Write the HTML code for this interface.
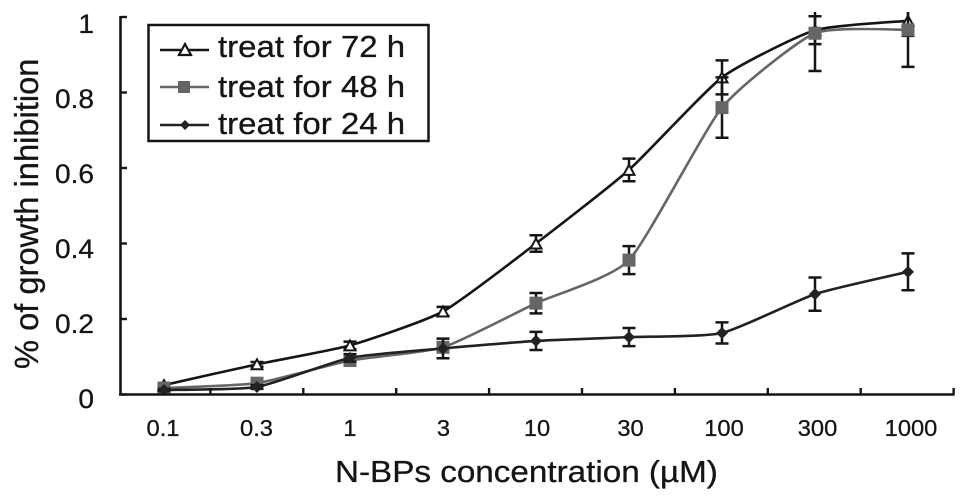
<!DOCTYPE html>
<html>
<head>
<meta charset="utf-8">
<title>Growth inhibition chart</title>
<style>
html,body{margin:0;padding:0;background:#fff;}
svg{display:block;filter:blur(0.35px);}
text{font-family:"Liberation Sans",sans-serif;fill:#151515;stroke:#151515;stroke-width:0.3px;}
</style>
</head>
<body>
<svg id="chart" width="969" height="497" viewBox="0 0 969 497" xmlns="http://www.w3.org/2000/svg">
  <defs><clipPath id="plot-clip"><rect x="100" y="12" width="869" height="420"/></clipPath></defs>
  <g id="plot" clip-path="url(#plot-clip)"></g>
  <g id="axes"></g>
  <text font-size="31" transform="translate(335,482) scale(1.072,1)">N-BPs concentration (µM)</text>
  <text font-size="33" transform="translate(38,369) rotate(-90) scale(0.99,1)">% of growth inhibition</text>
  <g>
    <rect x="148.5" y="25" width="280" height="116" fill="#fff" stroke="#151515" stroke-width="2.5"/>
    <g>
      <line x1="160" x2="209" y1="50" y2="50" stroke="#151515" stroke-width="2.5"/>
      <polygon points="185,44 191,55 179,55" fill="#fff" stroke="#151515" stroke-width="2.2"/>
      <text font-size="31" transform="translate(218,57) scale(1.065,1)">treat for 72 h</text>
    </g>
    <g>
      <line x1="160" x2="209" y1="87" y2="87" stroke="#666" stroke-width="2.5"/>
      <rect x="178" y="81" width="12" height="12" fill="#666"/>
      <text font-size="31" transform="translate(218,97) scale(1.065,1)">treat for 48 h</text>
    </g>
    <g>
      <line x1="160" x2="209" y1="125" y2="125" stroke="#222" stroke-width="2.5"/>
      <polygon points="185,120 190,125 185,130 180,125" fill="#222"/>
      <text font-size="31" transform="translate(218,134) scale(1.065,1)">treat for 24 h</text>
    </g>
  </g>
</svg>
<script>
const categories = ["0.1","0.3","1","3","10","30","100","300","1000"];
const yTicks = [0,0.2,0.4,0.6,0.8,1];
const yTickLabels = ["0","0.2","0.4","0.6","0.8","1"];
const values72 = [0.025,0.08,0.13,0.22,0.40,0.595,0.84,0.965,0.99];
const errors72 = [0.004,0.006,0.01,0.012,0.022,0.03,0.045,0.037,0.04];
const values48 = [0.017,0.03,0.09,0.125,0.242,0.356,0.76,0.957,0.966];
const errors48 = [0.004,0.006,0.01,0.012,0.027,0.037,0.08,0.1,0.098];
const values24 = [0.012,0.02,0.097,0.122,0.142,0.152,0.163,0.266,0.325];
const errors24 = [0.003,0.005,0.01,0.026,0.024,0.024,0.028,0.044,0.049];

const NS = "http://www.w3.org/2000/svg";
const plot = document.getElementById("plot");
const axes = document.getElementById("axes");
const INK = "#151515";
function xScale(i){ return 164 + 93 * i; }
function yScale(v){ return 394.5 - 377.5 * v; }
function xBoundary(i){ return 117.5 + 92.9 * i; }
function xLabelPos(i){ return 163 + 93.5 * i; }
function yLabelPos(v){ return 408 - 375 * v; }
function make(tag, parent, attrs){
  const el = document.createElementNS(NS, tag);
  for (const k in attrs) el.setAttribute(k, attrs[k]);
  parent.appendChild(el);
  return el;
}
function smoothPath(pts){
  let d = "M" + pts[0][0] + "," + pts[0][1];
  const k = 11;
  for (let i = 0; i < pts.length - 1; i++){
    const p0 = pts[Math.max(i-1,0)], p1 = pts[i], p2 = pts[i+1], p3 = pts[Math.min(i+2,pts.length-1)];
    const c1x = p1[0] + (p2[0]-p0[0])/k, c1y = p1[1] + (p2[1]-p0[1])/k;
    const c2x = p2[0] - (p3[0]-p1[0])/k, c2y = p2[1] - (p3[1]-p1[1])/k;
    d += " C" + c1x + "," + c1y + " " + c2x + "," + c2y + " " + p2[0] + "," + p2[1];
  }
  return d;
}
function drawSeries(name, values, errors, color, markerFn){
  const g = make("g", plot, {});
  
  
  const pts = values.map(function(v,i){ return [xScale(i), yScale(v)]; });
  const line = make("path", g, {d: smoothPath(pts), fill:"none", stroke:color, "stroke-width":2.6});
  
  
  values.forEach(function(v,i){
    const x = xScale(i), hi = yScale(v + errors[i]), lo = yScale(v - errors[i]);
    const eb = make("path", g, {d:"M"+x+","+hi+"V"+lo+"M"+(x-6.5)+","+hi+"H"+(x+6.5)+"M"+(x-6.5)+","+lo+"H"+(x+6.5), fill:"none", stroke:INK, "stroke-width":2.5});
    
    
  });
  values.forEach(function(v,i){
    const m = markerFn(g, xScale(i), yScale(v));
    
    
  });
}
function triangle(g,x,y){ return make("polygon", g, {points:x+","+(y-5)+" "+(x+5.5)+","+(y+5)+" "+(x-5.5)+","+(y+5), fill:"#fff", stroke:INK, "stroke-width":2}); }
function square(g,x,y){ return make("rect", g, {x:x-6.5, y:y-6.5, width:13, height:13, fill:"#666"}); }
function diamond(g,x,y){ return make("polygon", g, {points:x+","+(y-6)+" "+(x+6)+","+y+" "+x+","+(y+6)+" "+(x-6)+","+y, fill:"#222"}); }

drawSeries("72h", values72, errors72, INK, triangle);
drawSeries("48h", values48, errors48, "#666", square);
drawSeries("24h", values24, errors24, "#222", diamond);

const yAxis = make("line", axes, {x1:120.5, x2:120.5, y1:yScale(1)-1, y2:yScale(0)+1, stroke:INK, "stroke-width":2.6});


const xAxis = make("line", axes, {x1:119, x2:xBoundary(categories.length)+1, y1:yScale(0), y2:yScale(0), stroke:INK, "stroke-width":2.6});


yTicks.forEach(function(v,i){
  const t = make("line", axes, {x1:120.5, x2:127, y1:yScale(v), y2:yScale(v), stroke:INK, "stroke-width":2.4});
  
  
  const l = make("text", axes, {"font-size":27, "text-anchor":"end", transform:"translate(94,"+yLabelPos(v)+") scale(1.04,1)"});
  l.textContent = yTickLabels[i];
  
  
});
categories.forEach(function(c,i){
  const t = make("line", axes, {x1:xBoundary(i+1), x2:xBoundary(i+1), y1:yScale(0), y2:yScale(0)-6.5, stroke:INK, "stroke-width":2.4});
  
  
  const l = make("text", axes, {"font-size":23, "text-anchor":"middle", transform:"translate("+xLabelPos(i)+",436) scale(1.03,1)"});
  l.textContent = c;
  
  
});
</script>
</body>
</html>
